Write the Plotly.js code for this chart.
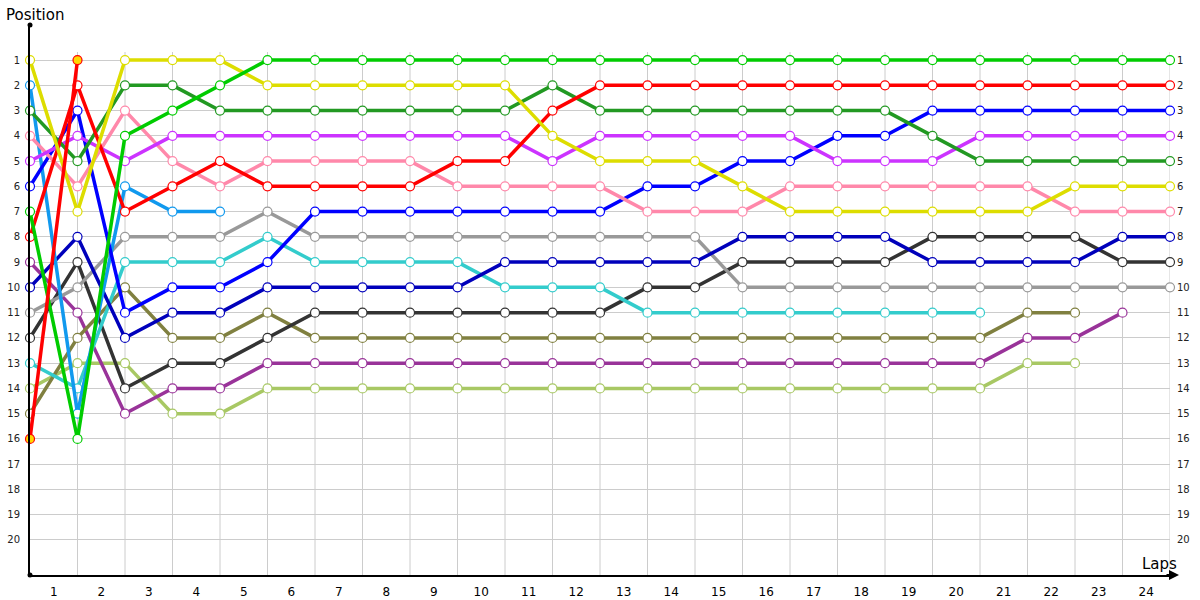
<!DOCTYPE html>
<html><head><meta charset="utf-8">
<script src="https://cdn.plot.ly/plotly-3.0.1.min.js"></script>
<style>html,body{margin:0;padding:0;background:#fff}#chart{width:1200px;height:600px}</style>
</head><body><div id="chart"></div>
<script>
const laps = [0,1,2,3,4,5,6,7,8,9,10,11,12,13,14,15,16,17,18,19,20,21,22,23,24];
const lapLabels = ['1','2','3','4','5','6','7','8','9','10','11','12','13','14','15','16','17','18','19','20','21','22','23','24'];
const positions = [1,2,3,4,5,6,7,8,9,10,11,12,13,14,15,16,17,18,19,20];

const brightGreen = [7,16,4,3,2,1,1,1,1,1,1,1,1,1,1,1,1,1,1,1,1,1,1,1,1];
const yellow      = [1,7,1,1,1,2,2,2,2,2,2,4,5,5,5,6,7,7,7,7,7,7,6,6,6];
const red         = [8,2,7,6,5,6,6,6,6,5,5,3,2,2,2,2,2,2,2,2,2,2,2,2,2];
const redShort    = [16,1];
const darkGreen   = [3,5,2,2,3,3,3,3,3,3,3,2,3,3,3,3,3,3,3,4,5,5,5,5,5];
const magenta     = [5,4,5,4,4,4,4,4,4,4,4,5,4,4,4,4,4,5,5,5,4,4,4,4,4];
const pink        = [4,6,3,5,6,5,5,5,5,6,6,6,6,7,7,7,6,6,6,6,6,6,7,7,7];
const blue        = [6,3,11,10,10,9,7,7,7,7,7,7,7,6,6,5,5,4,4,3,3,3,3,3,3];
const skyBlue     = [2,15,6,7,7];
const navy        = [10,8,12,11,11,10,10,10,10,10,9,9,9,9,9,8,8,8,8,9,9,9,9,8,8];
const gray        = [11,10,8,8,8,7,8,8,8,8,8,8,8,8,8,10,10,10,10,10,10,10,10,10,10];
const cyan        = [13,14,9,9,9,8,9,9,9,9,10,10,10,11,11,11,11,11,11,11,11];
const black       = [12,9,14,13,13,12,11,11,11,11,11,11,11,10,10,9,9,9,9,8,8,8,8,9,9];
const olive       = [15,12,10,12,12,11,12,12,12,12,12,12,12,12,12,12,12,12,12,12,12,11,11];
const purple      = [9,11,15,14,14,13,13,13,13,13,13,13,13,13,13,13,13,13,13,13,13,12,12,11];
const lightOlive  = [14,13,13,15,15,14,14,14,14,14,14,14,14,14,14,14,14,14,14,14,14,13,13];

const series = [
  {y: lightOlive, c: '#a8c864'},
  {y: purple, c: '#993399'},
  {y: olive, c: '#808040'},
  {y: black, c: '#333333'},
  {y: cyan, c: '#33cccc'},
  {y: gray, c: '#999999'},
  {y: navy, c: '#0000bb'},
  {y: skyBlue, c: '#1199ee'},
  {y: blue, c: '#0000ff'},
  {y: pink, c: '#ff88aa'},
  {y: magenta, c: '#cc33ff'},
  {y: darkGreen, c: '#229922'},
  {y: red, c: '#ff0000'},
  {y: yellow, c: '#dddd00'},
  {y: brightGreen, c: '#00cc00'},
  {y: redShort, c: '#ff0000', fill: '#ffd700'}
];

const traces = series.map(s => ({
  type: 'scatter', mode: 'lines+markers',
  x: laps.slice(0, s.y.length), y: s.y,
  line: {color: s.c, width: 3.5},
  marker: {size: 9, color: s.fill || '#ffffff', line: {color: s.c, width: 1.2}},
  cliponaxis: false, hoverinfo: 'skip', showlegend: false
}));
traces.push({type: 'scatter', x: [], y: [], yaxis: 'y2', showlegend: false, hoverinfo: 'skip'});

const FONT = 'DejaVu Sans, Verdana, sans-serif';
const yTop = -0.39, yBot = 21.39;

const shapes = laps.slice(1).map(l => ({
  type: 'line', xref: 'x', yref: 'y', x0: l, x1: l, y0: 0.68, y1: yBot,
  line: {color: '#cccccc', width: 1}, layer: 'below'
}));
shapes.push({type: 'circle', xref: 'paper', yref: 'paper', xsizemode: 'pixel', ysizemode: 'pixel',
  xanchor: 0, yanchor: 1, x0: -2.5, x1: 2.5, y0: -2.5, y1: 2.5, fillcolor: '#000', line: {width: 0}});
shapes.push({type: 'circle', xref: 'paper', yref: 'paper', xsizemode: 'pixel', ysizemode: 'pixel',
  xanchor: 0, yanchor: 0, x0: -2.5, x1: 2.5, y0: -2.5, y1: 2.5, fillcolor: '#000', line: {width: 0}});

const layout = {
  width: 1200, height: 600,
  margin: {l: 30, r: 30, t: 25, b: 25, pad: 0},
  paper_bgcolor: '#ffffff', plot_bgcolor: '#ffffff',
  font: {family: FONT, color: '#000'},
  xaxis: {
    range: [0, 24], tickvals: laps.slice(1).map(l => l - 0.5), ticktext: lapLabels,
    showgrid: false, zeroline: false, showline: true, linecolor: '#000', linewidth: 2,
    ticks: '', tickfont: {family: FONT, size: 12, color: '#000'}, ticklabelstandoff: 5, fixedrange: true
  },
  yaxis: {
    range: [yBot, yTop], tickvals: positions, ticktext: positions.map(String),
    showgrid: true, gridcolor: '#cccccc', gridwidth: 1, zeroline: false,
    showline: true, linecolor: '#000', linewidth: 2, ticks: '',
    tickfont: {family: FONT, size: 10, color: '#222'}, ticklabelstandoff: 6
  },
  yaxis2: {
    overlaying: 'y', side: 'right', range: [yBot, yTop], tickvals: positions, ticktext: positions.map(String),
    showgrid: false, zeroline: false, showline: false, ticks: '',
    tickfont: {family: FONT, size: 10, color: '#222'}, ticklabelstandoff: 6
  },
  shapes: shapes,
  annotations: [
    {xref: 'paper', yref: 'paper', x: (4 - 30) / 1140, y: 1 + (25 - 15) / 550, xanchor: 'left', yanchor: 'middle',
     text: 'Position', showarrow: false, font: {family: FONT, size: 15, color: '#000'}},
    {xref: 'paper', yref: 'paper', x: (1159 - 30) / 1140, y: (575 - 564) / 550, xanchor: 'center', yanchor: 'middle',
     text: 'Laps', showarrow: false, font: {family: FONT, size: 15, color: '#000'}},
    {xref: 'paper', yref: 'paper', x: (1179 - 30) / 1140, y: 0, ax: -14, ay: 0, text: '',
     showarrow: true, arrowhead: 2, arrowsize: 1, arrowwidth: 2, arrowcolor: '#000'}
  ],
  hovermode: false
};

Plotly.newPlot('chart', traces, layout, {displayModeBar: false, staticPlot: true});
</script>
</body></html>
